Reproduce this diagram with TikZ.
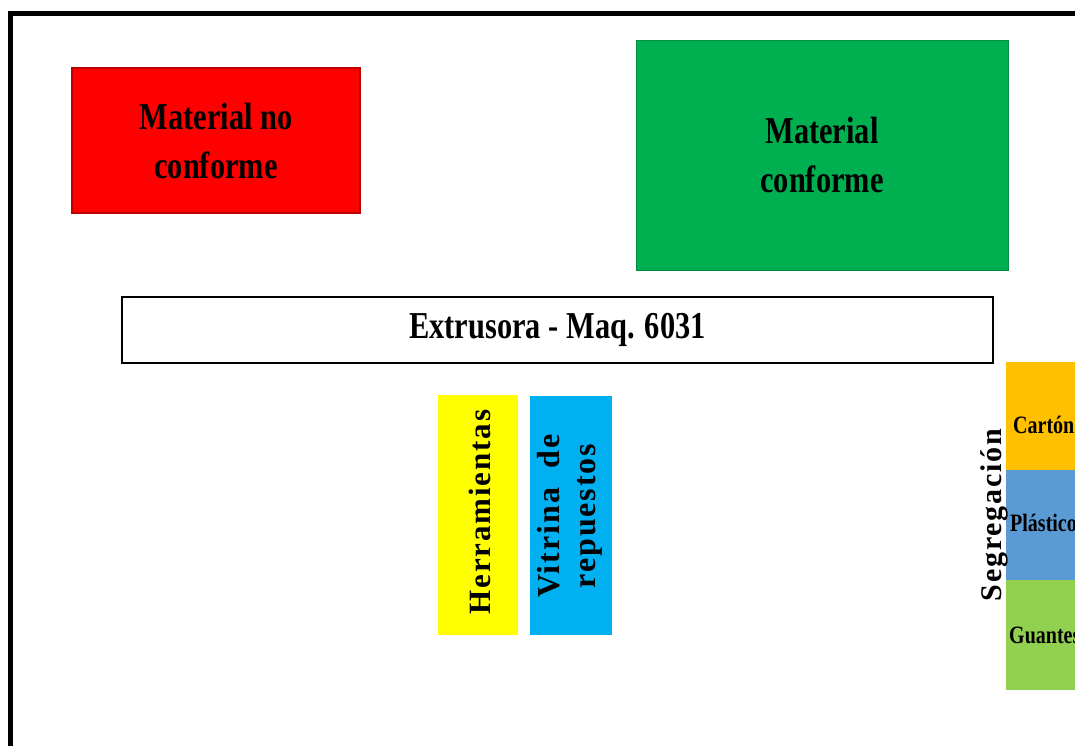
\documentclass[tikz,border=0pt]{standalone}
\usepackage{fontspec}
\setmainfont{Liberation Serif}
\newfontfamily\condf[FakeStretch=0.8]{Liberation Serif}
\newfontfamily\widef[LetterSpace=6]{Liberation Serif}
\definecolor{rojo}{HTML}{FF0000}
\definecolor{rojoborde}{HTML}{C00000}
\definecolor{verde}{HTML}{00B050}
\definecolor{amarillo}{HTML}{FFFF00}
\definecolor{celeste}{HTML}{00B0F0}
\definecolor{naranja}{HTML}{FFC000}
\definecolor{azul}{HTML}{5B9BD5}
\definecolor{verdec}{HTML}{92D050}
\tikzset{
  zone/.style={rectangle, inner sep=0pt, align=center, font=\condf\bfseries\fontsize{38}{49}\selectfont},
  vzone/.style={rectangle, inner sep=0pt},
  vlabel/.style={rotate=90, align=center, inner sep=0pt},
  seg/.style={rectangle, inner sep=0pt, minimum width=74pt, minimum height=110pt, anchor=north west},
  seglabel/.style={anchor=west, inner sep=0pt, font=\condf\bfseries\fontsize{25}{28}\selectfont}
}
\begin{document}
\begin{tikzpicture}[x=1pt,y=-1pt]
\useasboundingbox (0,0) rectangle (1075,745);
\clip (0,0) rectangle (1075,745);
% outer frame
\draw[line width=5pt] (10,780) -- (10,13) -- (1100,13);
% boxes
\node[zone, fill=rojo, draw=rojoborde, line width=1.5pt, minimum width=288pt, minimum height=145pt] (nc) at (216,140.5) {Material no\\conforme};
\node[zone, fill=verde, draw=verde!80!black, line width=0.6pt, minimum width=372pt, minimum height=230pt] (c) at (822,155) {Material\\conforme};
\node[zone, fill=white, draw=black, line width=1.2pt, minimum width=871pt, minimum height=66pt] (ext) at (557.5,330) {Extrusora - Maq. 6031};
\node[vzone, fill=amarillo, minimum width=80pt, minimum height=240pt] (herr) at (478,515) {};
\node[vlabel, font=\widef\bfseries\fontsize{31}{35}\selectfont] (herrt) at (480,512) {Herramientas};
\node[vzone, fill=celeste, minimum width=82pt, minimum height=239pt] (vit) at (571,515.5) {};
\node[vlabel, font=\widef\bfseries\fontsize{32}{36}\selectfont] (vitt) at (570,516) {Vitrina\ \ de\\repuestos};
% segregation
\node[seg, fill=naranja] (car) at (1006,362) {};
\node[seg, fill=azul] (pla) at (1006,470) {};
\node[seg, fill=verdec] (gua) at (1006,580) {};
\node[seglabel] (cart) at (1013,425) {Cartón};
\node[seglabel] (plat) at (1010,523) {Plástico};
\node[seglabel] (guat) at (1009,635) {Guantes};
\node[vlabel, font=\widef\bfseries\fontsize{30}{32}\selectfont] (segt) at (994,515) {Segregación};
\end{tikzpicture}
\end{document}
